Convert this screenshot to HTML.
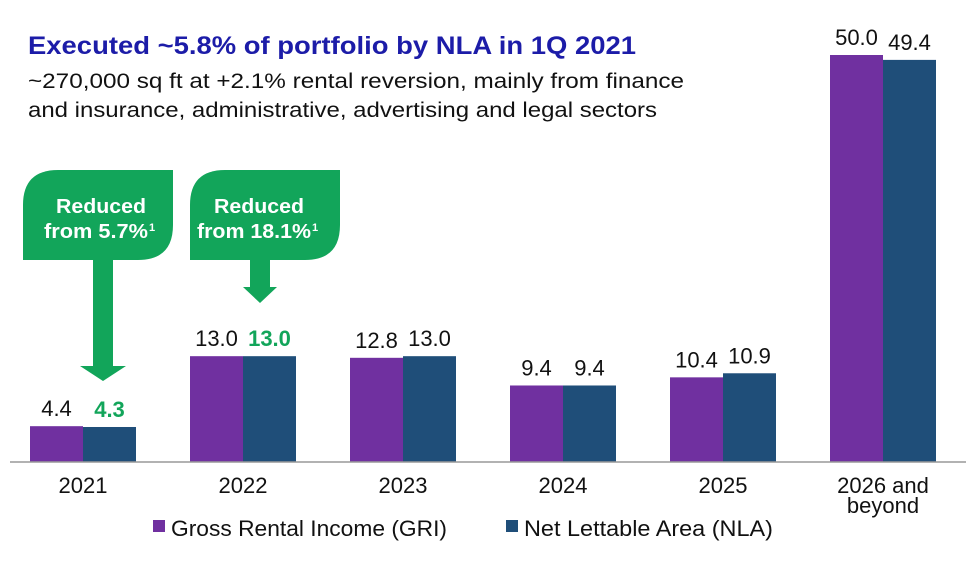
<!DOCTYPE html>
<html><head><meta charset="utf-8"><style>
body{margin:0;background:#fff;font-family:"Liberation Sans",sans-serif;}
#wrap{position:relative;width:976px;height:562px;overflow:hidden;}
</style></head><body><div id="wrap">
<svg id="chart" width="976" height="562" xmlns="http://www.w3.org/2000/svg" font-family="Liberation Sans, sans-serif">
<text x="28" y="54" font-size="25" font-weight="bold" fill="#1c1ca8" textLength="608" lengthAdjust="spacingAndGlyphs">Executed ~5.8% of portfolio by NLA in 1Q 2021</text>
<text x="28" y="88" font-size="21" fill="#111" textLength="656" lengthAdjust="spacingAndGlyphs">~270,000 sq ft at +2.1% rental reversion, mainly from finance</text>
<text x="28" y="117" font-size="21" fill="#111" textLength="629" lengthAdjust="spacingAndGlyphs">and insurance, administrative, advertising and legal sectors</text>
<g>
<path d="M58,170 H173 V225 Q173,260 138,260 H23 V205 Q23,170 58,170Z" fill="#12a55a"/>
<rect x="93" y="259" width="20" height="110" fill="#12a55a"/>
<path d="M80,366 H126 L103,381Z" fill="#12a55a"/>
<text x="101" y="213" font-size="20" font-weight="bold" fill="#fff" text-anchor="middle" textLength="90" lengthAdjust="spacingAndGlyphs">Reduced</text>
<text x="96" y="238" font-size="20" font-weight="bold" fill="#fff" text-anchor="middle" textLength="104" lengthAdjust="spacingAndGlyphs">from 5.7%</text>
<text x="149" y="231" font-size="11" font-weight="bold" fill="#fff">1</text>
</g>
<g>
<path d="M225,170 H340 V225 Q340,260 305,260 H190 V205 Q190,170 225,170Z" fill="#12a55a"/>
<rect x="250" y="259" width="20" height="30" fill="#12a55a"/>
<path d="M243,287 H277 L260,303Z" fill="#12a55a"/>
<text x="259" y="213" font-size="20" font-weight="bold" fill="#fff" text-anchor="middle" textLength="90" lengthAdjust="spacingAndGlyphs">Reduced</text>
<text x="254" y="238" font-size="20" font-weight="bold" fill="#fff" text-anchor="middle" textLength="114" lengthAdjust="spacingAndGlyphs">from 18.1%</text>
<text x="312" y="231" font-size="11" font-weight="bold" fill="#fff">1</text>
</g>
<g id="bars"></g>
<line x1="10" y1="462" x2="966" y2="462" stroke="#999" stroke-width="1.5"/>
<g>
<rect x="153" y="520" width="12" height="12" fill="#7030a0"/>
<text x="171" y="536" font-size="22" fill="#111" textLength="276" lengthAdjust="spacingAndGlyphs">Gross Rental Income (GRI)</text>
<rect x="506" y="520" width="12" height="12" fill="#1f4e79"/>
<text x="524" y="536" font-size="22" fill="#111" textLength="249" lengthAdjust="spacingAndGlyphs">Net Lettable Area (NLA)</text>
</g>
</svg>
<script>
const categories=["2021","2022","2023","2024","2025","2026 and beyond"];
const griValues=[4.4,13.0,12.8,9.4,10.4,50.0];
const nlaValues=[4.3,13.0,13.0,9.4,10.9,49.4];
const nlaHighlight=[true,true,false,false,false,false];
const NS="http://www.w3.org/2000/svg";
const g=document.getElementById("bars");
const baseY=462,pxPerUnit=8.14,x0=83,step=160,bw=53;
function y(v){return baseY-v*pxPerUnit;}
function cx(i){return x0+i*step;}
function mk(tag,attrs,txt){const e=document.createElementNS(NS,tag);for(const k in attrs)e.setAttribute(k,attrs[k]);if(txt!==undefined)e.textContent=txt;g.appendChild(e);return e;}
categories.forEach((c,i)=>{
 const b1=mk("rect",{x:cx(i)-bw,y:y(griValues[i]),width:bw,height:griValues[i]*pxPerUnit,fill:"#7030a0"});
 
 
 const b2=mk("rect",{x:cx(i),y:y(nlaValues[i]),width:bw,height:nlaValues[i]*pxPerUnit,fill:"#1f4e79"});
 
 
 const l1=mk("text",{x:cx(i)-bw/2,y:y(griValues[i])-10,"font-size":22,"text-anchor":"middle",fill:"#111"},griValues[i].toFixed(1));
 
 
 const hl=nlaHighlight[i];
 const l2=mk("text",{x:cx(i)+bw/2,y:y(nlaValues[i])-10,"font-size":22,"text-anchor":"middle",fill:hl?"#12a55a":"#111","font-weight":hl?"bold":"normal"},nlaValues[i].toFixed(1));
 
 
 const parts=c==="2026 and beyond"?["2026 and","beyond"]:[c];
 parts.forEach((p,j)=>{
  const t=mk("text",{x:cx(i),y:493+j*20,"font-size":22,"text-anchor":"middle",fill:"#111"},p);
  
  
 });
});
</script>
</div></body></html>
